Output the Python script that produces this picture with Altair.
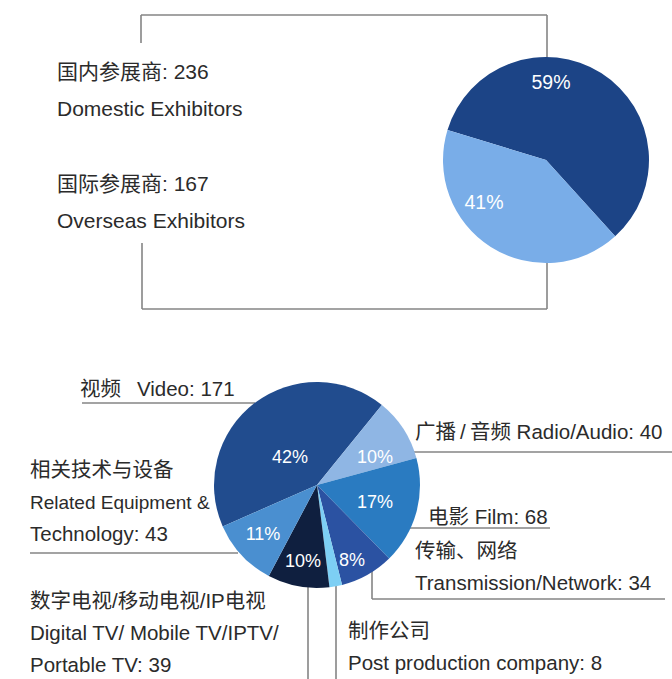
import math
import altair as alt
import pandas as pd

# ---------------- data ----------------
top_categories = ["国内参展商", "国际参展商"]
top_english = ["Domestic Exhibitors", "Overseas Exhibitors"]
top_values = [236, 167]

bottom_categories = ["视频", "广播\u2009/\u2009音频", "电影", "传输、网络", "制作公司",
                     "数字电视/移动电视/IP电视", "相关技术与设备"]
bottom_english = ["Video", "Radio/Audio", "Film", "Transmission/Network",
                  "Post production company", "Digital TV/ Mobile TV/IPTV/ Portable TV",
                  "Related Equipment & Technology"]
bottom_values = [171, 40, 68, 34, 8, 39, 43]

# ---------------- styles / layout ----------------
top_colors = ["#1c4486", "#79ade8"]
bottom_colors = ["#214c8e", "#8fb6e4", "#2a7bc1", "#2b52a2", "#7dcff4", "#0f1f3f", "#4a8fd0"]

W, H = 672, 679
FONT = "Liberation Sans, Arial, 'Noto Sans CJK SC', sans-serif"
TEXT_COLOR = "#2b2b2b"
LINE_COLOR = "#858585"

top_center, top_radius, top_start_deg = (546, 160), 103, 287
bot_center, bot_radius, bot_start_deg = (317, 485), 103, 246.3

# label lines per category ({v} = value); optional (text, size) overrides
top_label_lines = [["{cn}: {v}", "{en}"], ["{cn}: {v}", "{en}"]]
top_label_pos = [(57, 73), (57, 185)]
top_line_gap = 37

bottom_label_lines = [
    ["{cn}\u2002 Video: {v}"],
    ["{cn} Radio/Audio: {v}"],
    ["{cn} Film: {v}"],
    ["{cn}", "Transmission/Network: {v}"],
    ["{cn}", "Post production company: {v}"],
    ["{cn}", "Digital TV/ Mobile TV/IPTV/", "Portable TV: {v}"],
    ["{cn}", ("Related Equipment &", 19), "Technology: {v}"],
]
bottom_label_pos = [(80, 390), (415, 433), (428, 518), (415, 552),
                    (348, 632), (30, 602), (30, 471)]
bottom_line_gap = 32

top_pct_pos = [(551, 83), (484, 203)]
bottom_pct_pos = [(290, 458), (375, 458), (375, 503), (352, 561), None, (303, 562), (263, 535)]

# leader / bracket segments (x1, y1, x2, y2)
segments = [
    (141, 15, 547, 15), (141, 15, 141, 43), (547, 15, 547, 60),
    (142, 243, 142, 309), (547, 258, 547, 309), (142, 309, 547, 309),
    (82, 403, 255, 403),
    (414, 452, 672, 452),
    (30, 553, 238, 553),
    (410, 528, 550, 528),
    (372, 570, 372, 599), (372, 599, 665, 599),
    (308, 585, 308, 679),
    (336, 583, 336, 679),
]

# ---------------- tables ----------------
def pie_table(cats, vals, colors):
    total = sum(vals)
    return pd.DataFrame({
        "idx": list(range(len(cats))),
        "cat": cats,
        "value": vals,
        "color": colors,
        "pct": [f"{round(v / total * 100)}%" for v in vals],
    })

top_df = pie_table(top_categories, top_values, top_colors)
bot_df = pie_table(bottom_categories, bottom_values, bottom_colors)

rows = []
for cn, en, v, lines, (x0, y0) in zip(top_categories, top_english, top_values, top_label_lines, top_label_pos):
    for i, ln in enumerate(lines):
        rows.append({"x": x0, "y": y0 + i * top_line_gap, "t": ln.format(cn=cn, en=en, v=v), "s": 21})
for cn, v, lines, (x0, y0) in zip(bottom_categories, bottom_values, bottom_label_lines, bottom_label_pos):
    for i, ln in enumerate(lines):
        size = 20.5
        if isinstance(ln, tuple):
            ln, size = ln
        rows.append({"x": x0, "y": y0 + i * bottom_line_gap, "t": ln.format(cn=cn, v=v), "s": size})
labels_df = pd.DataFrame(rows)

pct_rows = []
for p, pos in zip(top_df["pct"], top_pct_pos):
    pct_rows.append({"x": pos[0], "y": pos[1], "t": p, "s": 19.5})
for p, pos in zip(bot_df["pct"], bottom_pct_pos):
    if pos is not None:
        pct_rows.append({"x": pos[0], "y": pos[1], "t": p, "s": 18})
pct_df = pd.DataFrame(pct_rows)

seg_df = pd.DataFrame(segments, columns=["x1", "y1", "x2", "y2"])

xs = alt.Scale(domain=[0, W], range=[0, W])
ys = alt.Scale(domain=[0, H], range=[0, H])

# ---------------- layers ----------------
lines = alt.Chart(seg_df).mark_rule(color=LINE_COLOR, strokeWidth=1.6).encode(
    x=alt.X("x1:Q", scale=xs, axis=None),
    y=alt.Y("y1:Q", scale=ys, axis=None),
    x2="x2:Q",
    y2="y2:Q",
)

def pie(df, center, radius, start_deg):
    a0 = math.radians(start_deg)
    return alt.Chart(df).mark_arc(radius=radius, stroke=None).encode(
        x=alt.value(center[0]),
        y=alt.value(center[1]),
        theta=alt.Theta("value:Q", stack=True, scale=alt.Scale(range=[a0, a0 + 2 * math.pi])),
        order=alt.Order("idx:Q"),
        color=alt.Color("color:N", scale=None),
    )

top_pie = pie(top_df, top_center, top_radius, top_start_deg)
bot_pie = pie(bot_df, bot_center, bot_radius, bot_start_deg)

labels = alt.Chart(labels_df).mark_text(
    align="left", baseline="middle", font=FONT, color=TEXT_COLOR
).encode(
    x=alt.X("x:Q", scale=xs, axis=None),
    y=alt.Y("y:Q", scale=ys, axis=None),
    text="t:N",
    size=alt.Size("s:Q", scale=None),
)

pcts = alt.Chart(pct_df).mark_text(
    align="center", baseline="middle", font=FONT, color="white"
).encode(
    x=alt.X("x:Q", scale=xs, axis=None),
    y=alt.Y("y:Q", scale=ys, axis=None),
    text="t:N",
    size=alt.Size("s:Q", scale=None),
)

chart = alt.layer(lines, top_pie, bot_pie, labels, pcts).resolve_scale(
    theta="independent"
).properties(
    width=W, height=H, padding=0,
    autosize=alt.AutoSizeParams(type="none"),
    background="white",
).configure_view(stroke=None)

chart.save("out.html", embed_options={"renderer": "svg", "actions": False})
